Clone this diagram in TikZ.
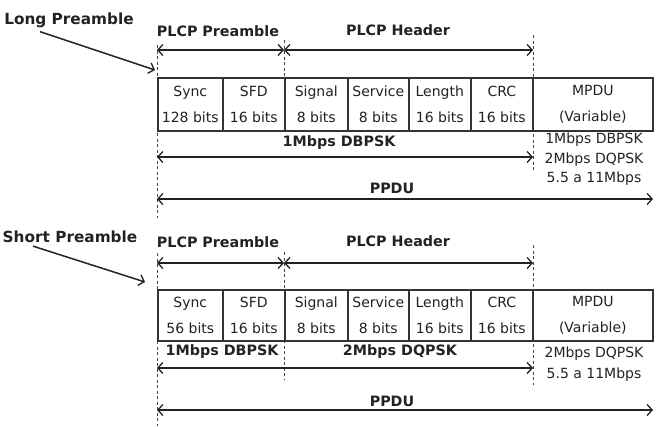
\documentclass[tikz,border=0pt]{standalone}
\usepackage{fontspec}
\setmainfont{DejaVu Sans}
\usetikzlibrary{arrows.meta}
\definecolor{ink}{HTML}{222222}
\definecolor{rulecol}{HTML}{333333}
\definecolor{guidecol}{HTML}{444444}

\begin{document}
\begin{tikzpicture}[x=1pt,y=-1pt,
  lbl/.style={font=\bfseries\fontsize{14.3}{16}\selectfont, text=ink, inner sep=0},
  biglbl/.style={font=\bfseries\fontsize{15.3}{18}\selectfont, text=ink, inner sep=0},
  txt/.style={font=\fontsize{14}{19.5}\selectfont, text=ink, inner sep=0, align=center},
  cell/.style={draw=rulecol, line width=1.6pt, fill=white, minimum height=53pt,
    inner sep=0, align=center, font=\fontsize{14}{26}\selectfont, text=ink, anchor=north west},
  barb/.tip={Straight Barb[length=5pt,width=11pt,line width=1.3pt]},
  dim/.style={draw=ink, line width=1.9pt, barb-barb},
  pointer/.style={draw=ink, line width=1.5pt, -barb},
  guide/.style={draw=guidecol, line width=1pt, dash pattern=on 3pt off 2.5pt}]

\useasboundingbox (0,0) rectangle (656,426);

% ---------------- long preamble frame ----------------
% guide lines
\draw[guide] (157,45) -- (157,218);
\draw[guide] (284,40) -- (284,77);
\draw[guide] (533,35) -- (533,172);

\node[biglbl] (lp) at (69,20) {Long Preamble};
\coordinate (lp-tip) at (155,70);
\draw[pointer] ([xshift=-29pt,yshift=-4pt]lp.south) -- (lp-tip);

\node[lbl] (lpre) at (218,31) {PLCP Preamble};
\node[lbl] (lhdr) at (398,30) {PLCP Header};

\coordinate (la) at (157,50);
\coordinate (lb) at (284,50);
\coordinate (lc) at (533,50);
\draw[dim] (la) -- (lb);
\draw[dim] (lb) -- (lc);

\node[cell, minimum width=65pt]  (l1) at (157,77) {Sync\\128 bits};
\node[cell, minimum width=62pt]  (l2) at (222,77) {SFD\\16 bits};
\node[cell, minimum width=63pt]  (l3) at (284,77) {Signal\\8 bits};
\node[cell, minimum width=61pt]  (l4) at (347,77) {Service\\8 bits};
\node[cell, minimum width=62pt]  (l5) at (408,77) {Length\\16 bits};
\node[cell, minimum width=62pt]  (l6) at (470,77) {CRC\\16 bits};
\node[cell, minimum width=120pt] (l7) at (532,77) {MPDU\\(Variable)};

\node[lbl] (lrate) at (339,143) {1Mbps DBPSK};
\coordinate (ld) at (157,157);
\coordinate (le) at (533,157);
\draw[dim] (ld) -- (le);

\node[txt] (lmod) at (594,159.5) {1Mbps DBPSK\\2Mbps DQPSK\\5.5 a 11Mbps};

\node[lbl] (lppdu) at (392,188) {PPDU};
\coordinate (lf) at (157,199);
\coordinate (lg) at (653,199);
\draw[dim] (lf) -- (lg);

% ---------------- short preamble frame ----------------
\draw[guide] (157,253) -- (157,426);
\draw[guide] (284,252) -- (284,289);
\draw[guide] (284,340) -- (284,380);
\draw[guide] (533,245) -- (533,385);

\node[biglbl] (sp) at (70,237) {Short Preamble};
\coordinate (sp-tip) at (145,282);
\draw[pointer] ([xshift=-37pt,yshift=-3pt]sp.south) -- (sp-tip);

\node[lbl] (spre) at (218,242) {PLCP Preamble};
\node[lbl] (shdr) at (398,241) {PLCP Header};

\coordinate (sa) at (157,263);
\coordinate (sb) at (284,263);
\coordinate (sc) at (533,263);
\draw[dim] (sa) -- (sb);
\draw[dim] (sb) -- (sc);

\node[cell, minimum width=65pt, minimum height=51pt]  (s1) at (157,289) {Sync\\56 bits};
\node[cell, minimum width=62pt, minimum height=51pt]  (s2) at (222,289) {SFD\\16 bits};
\node[cell, minimum width=63pt, minimum height=51pt]  (s3) at (284,289) {Signal\\8 bits};
\node[cell, minimum width=61pt, minimum height=51pt]  (s4) at (347,289) {Service\\8 bits};
\node[cell, minimum width=62pt, minimum height=51pt]  (s5) at (408,289) {Length\\16 bits};
\node[cell, minimum width=62pt, minimum height=51pt]  (s6) at (470,289) {CRC\\16 bits};
\node[cell, minimum width=120pt, minimum height=51pt] (s7) at (532,289) {MPDU\\(Variable)};

\node[lbl] (srate1) at (222,352) {1Mbps DBPSK};
\node[lbl] (srate2) at (400,352) {2Mbps DQPSK};
\coordinate (sd) at (157,368);
\coordinate (se) at (533,368);
\draw[dim] (sd) -- (se);

\node[txt, font=\fontsize{14}{21}\selectfont] (smod) at (594,364.5) {2Mbps DQPSK\\5.5 a 11Mbps};

\node[lbl] (sppdu) at (392,401) {PPDU};
\coordinate (sf) at (157,410);
\coordinate (sg) at (653,410);
\draw[dim] (sf) -- (sg);

\end{tikzpicture}
\end{document}
